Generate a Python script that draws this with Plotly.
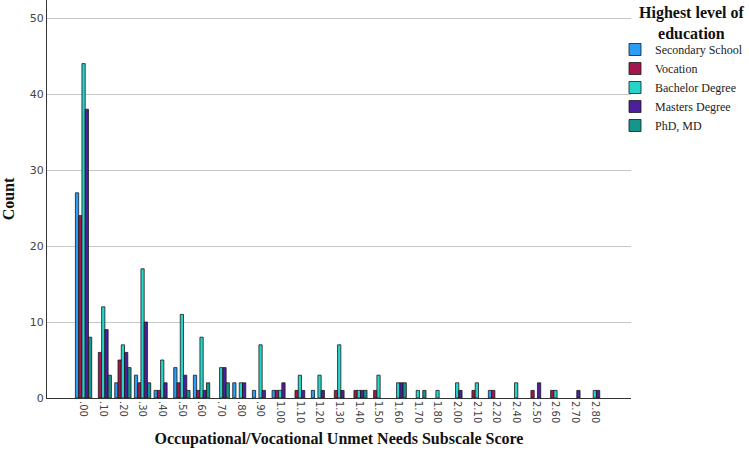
import plotly.graph_objects as go

categories = [".00", ".10", ".20", ".30", ".40", ".50", ".60", ".70", ".80", ".90",
              "1.00", "1.10", "1.20", "1.30", "1.40", "1.50", "1.60", "1.70", "1.80",
              "2.00", "2.10", "2.20", "2.40", "2.50", "2.60", "2.70", "2.80"]

secondary_school = [27, 0, 2, 3, 1, 4, 3, 0, 2, 1, 1, 0, 1, 0, 0, 0, 0, 0, 0, 0, 0, 1, 0, 0, 0, 0, 0]
vocation         = [24, 6, 5, 2, 1, 2, 1, 0, 0, 0, 1, 1, 0, 1, 1, 1, 0, 0, 0, 0, 1, 1, 0, 1, 1, 0, 0]
bachelor_degree  = [44, 12, 7, 17, 5, 11, 8, 4, 2, 7, 1, 3, 3, 7, 1, 3, 2, 1, 1, 2, 2, 0, 2, 0, 1, 0, 1]
masters_degree   = [38, 9, 6, 10, 2, 3, 1, 4, 2, 1, 2, 1, 1, 1, 1, 0, 2, 0, 0, 1, 0, 0, 0, 2, 0, 1, 1]
phd_md           = [8, 3, 4, 2, 0, 1, 2, 2, 0, 0, 0, 0, 0, 0, 1, 0, 2, 1, 0, 0, 0, 0, 0, 0, 0, 0, 0]

series = [
    ("Secondary School", secondary_school, "#2b9df4"),
    ("Vocation", vocation, "#a3174e"),
    ("Bachelor Degree", bachelor_degree, "#26d4cc"),
    ("Masters Degree", masters_degree, "#4b1f9e"),
    ("PhD, MD", phd_md, "#14968c"),
]

legend_title = "Highest level of<br>education"

fig = go.Figure()
for name, vals, color in series:
    fig.add_trace(go.Bar(
        x=categories,
        y=[v if v != 0 else None for v in vals],
        name=name,
        marker=dict(color=color, line=dict(color="#1a1a1a", width=0.8)),
    ))

W, H = 749, 455
L, R, T, B = 47, 118, 0, 57
plot_h = H - T - B
plot_w = W - L - R
serif = "Liberation Serif"
fig.update_layout(
    width=W, height=H,
    margin=dict(l=L, r=R, t=T, b=B),
    paper_bgcolor="white", plot_bgcolor="white",
    barmode="group", bargap=0.17, bargroupgap=0,
    font=dict(family="DejaVu Sans", size=10, color="#444"),
    xaxis=dict(
        type="category",
        range=[-1.86, len(categories) - 1 + 1.84],
        tickangle=90,
        tickfont=dict(family="DejaVu Sans", size=10, color="#444"),
        showline=True, linecolor="#333", linewidth=1,
        showgrid=False, ticks="",
        title=dict(text="<b>Occupational/Vocational Unmet Needs Subscale Score</b>",
                   font=dict(family=serif, size=16, color="#111"), standoff=10),
    ),
    yaxis=dict(
        range=[0, 52.37],
        tickvals=[0, 10, 20, 30, 40, 50],
        tickfont=dict(family="DejaVu Sans", size=11, color="#444"),
        showline=True, linecolor="#333", linewidth=1,
        showgrid=True, gridcolor="#c8c8c8", gridwidth=1,
        zeroline=False, ticks="",
        title=dict(text="<b>Count</b>", font=dict(family=serif, size=16, color="#111"), standoff=12),
    ),
    legend=dict(
        x=(615 - L) / plot_w, xanchor="left", y=1 - 35 / plot_h, yanchor="top",
        font=dict(family=serif, size=12, color="#222"),
        tracegroupgap=0, itemwidth=30, borderwidth=0,
        bgcolor="rgba(0,0,0,0)",
    ),
    annotations=[dict(
        text="<b>" + legend_title + "</b>",
        xref="paper", yref="paper",
        x=(692 - L) / plot_w, y=1 - 2 / plot_h,
        xanchor="center", yanchor="top", align="center",
        showarrow=False,
        font=dict(family=serif, size=16, color="#111"),
    )],
    showlegend=True,
)

fig.write_html("out.html")
